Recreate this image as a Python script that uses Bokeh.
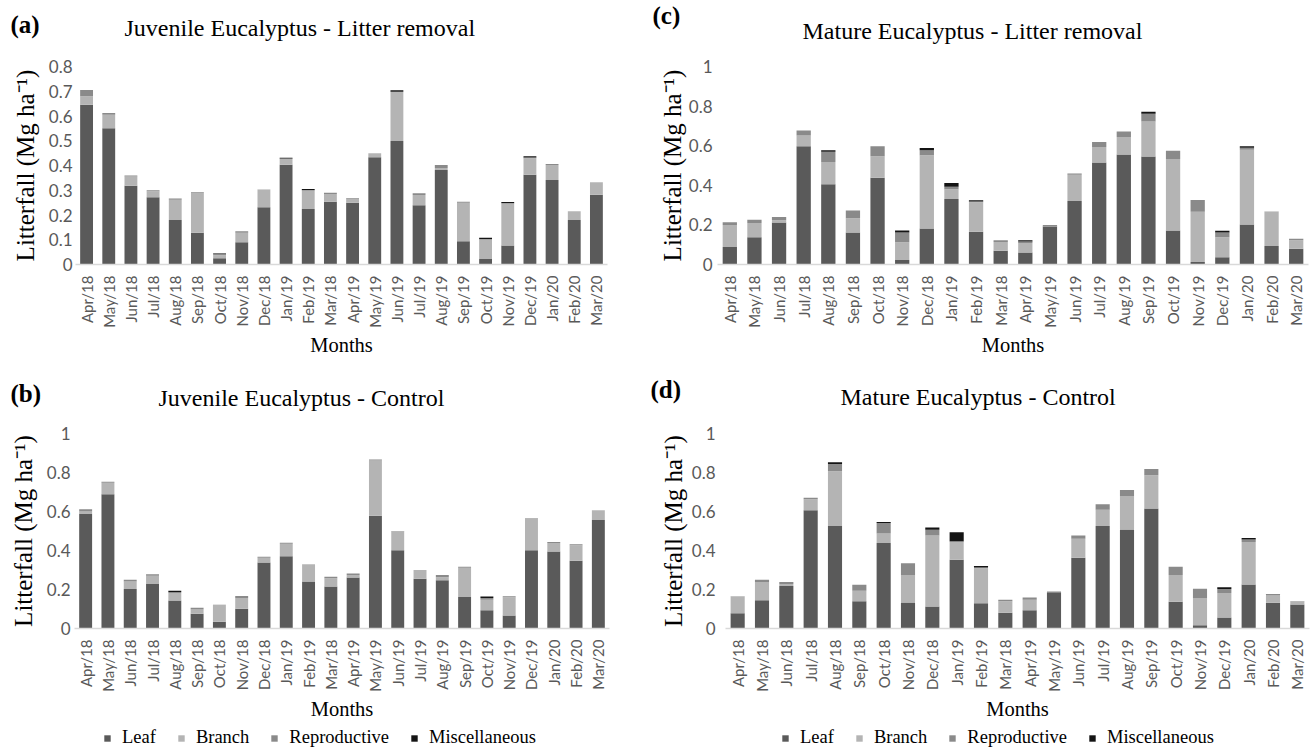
from bokeh.plotting import figure
from bokeh.layouts import row, column
from bokeh.models import (FactorRange, Range1d, FixedTicker, Title, Legend, LegendItem)
from bokeh.embed import file_html
from bokeh.resources import INLINE

months = ["Apr/18", "May/18", "Jun/18", "Jul/18", "Aug/18", "Sep/18", "Oct/18", "Nov/18",
          "Dec/18", "Jan/19", "Feb/19", "Mar/18", "Apr/19", "May/19", "Jun/19", "Jul/19",
          "Aug/19", "Sep/19", "Oct/19", "Nov/19", "Dec/19", "Jan/20", "Feb/20", "Mar/20"]
components = ["Leaf", "Branch", "Reproductive", "Miscellaneous"]
colors = ["#5a5a5a", "#b4b4b4", "#8a8a8a", "#141414"]

# (a) Juvenile Eucalyptus - Litter removal
a_leaf = [.645, .551, .318, .272, .180, .128, .025, .090, .231, .403, .224, .254,
          .249, .433, .499, .239, .382, .094, .022, .077, .363, .341, .180, .282]
a_branch = [.035, .054, .038, .024, .082, .161, .012, .038, .071, .023, .074, .031,
            .016, .016, .199, .042, .008, .156, .078, .168, .066, .061, .035, .050]
a_repro = [.025, .007, .004, .004, .005, .003, .006, .006, .001, .002, .003, .005,
           .003, .001, .000, .007, .012, .004, .003, .003, .003, .004, .000, .000]
a_misc = [.000, .000, .000, .000, .000, .000, .002, .000, .000, .003, .004, .000,
          .000, .000, .006, .000, .000, .000, .005, .005, .005, .000, .000, .000]

# (b) Juvenile Eucalyptus - Control
b_leaf = [.587, .688, .202, .228, .143, .076, .035, .101, .339, .371, .241, .216,
          .261, .578, .401, .255, .248, .162, .093, .067, .401, .395, .347, .556]
b_branch = [.013, .059, .039, .043, .039, .022, .085, .056, .024, .064, .088, .042,
            .014, .284, .098, .045, .015, .150, .055, .093, .164, .043, .080, .051]
b_repro = [.012, .005, .009, .007, .005, .008, .002, .010, .005, .005, .001, .008,
           .007, .005, .001, .000, .012, .005, .009, .005, .002, .005, .005, .000]
b_misc = [.000, .000, .000, .000, .007, .000, .000, .000, .000, .000, .000, .000,
          .000, .000, .000, .000, .000, .000, .007, .000, .000, .000, .000, .000]

# (c) Mature Eucalyptus - Litter removal
c_leaf = [.089, .137, .212, .597, .405, .162, .438, .023, .182, .331, .166, .069,
          .060, .192, .321, .515, .555, .545, .172, .012, .037, .202, .094, .079]
c_branch = [.111, .072, .012, .055, .113, .072, .109, .089, .370, .049, .148, .045,
            .049, .000, .132, .079, .089, .177, .361, .254, .100, .378, .172, .043]
c_repro = [.014, .017, .016, .025, .051, .039, .050, .050, .025, .013, .004, .008,
           .007, .007, .007, .025, .028, .039, .042, .060, .025, .010, .002, .008]
c_misc = [.000, .000, .000, .000, .008, .000, .000, .010, .012, .018, .006, .000,
          .006, .000, .000, .000, .000, .010, .000, .000, .009, .007, .000, .000]

# (d) Mature Eucalyptus - Control
d_leaf = [.078, .145, .218, .607, .526, .140, .438, .133, .113, .352, .130, .081,
          .094, .182, .363, .526, .508, .616, .137, .017, .056, .226, .132, .123]
d_branch = [.086, .094, .010, .056, .280, .054, .049, .142, .364, .091, .179, .059,
            .054, .000, .097, .083, .172, .170, .138, .140, .126, .217, .037, .014]
d_repro = [.001, .011, .011, .008, .037, .030, .054, .059, .029, .005, .004, .008,
           .011, .008, .017, .028, .030, .032, .042, .047, .020, .014, .008, .003]
d_misc = [.000, .000, .000, .000, .009, .000, .005, .000, .012, .046, .007, .000,
          .000, .000, .000, .000, .000, .000, .000, .000, .009, .007, .000, .000]

SERIF = "Liberation Serif"
SANS = "Lato"

TITLE_H = 27.0    # estimated text-box height of a 24px serif title
LETTER_H = 26.0   # slightly under the text-box height of the 25px bold letter


def panel(letter, title, leaf, branch, repro, misc, ymax, yticks, W, H, frame,
          letter_x, title_x, c_letter, c_title, tick_standoff=4, ylab_standoff=7):
    left, right, top, bottom = frame
    p = figure(width=W, height=H, x_range=FactorRange(*months), y_range=Range1d(0, ymax),
               output_backend="svg", toolbar_location=None,
               min_border_left=left, min_border_right=W - right,
               min_border_top=top, min_border_bottom=H - bottom)
    p.outline_line_color = None
    p.grid.visible = False

    data = {"months": months, "Leaf": leaf, "Branch": branch,
            "Reproductive": repro, "Miscellaneous": misc}
    p.vbar_stack(components, x="months", width=0.58, color=colors,
                 line_color=None, source=data)

    for ax in (p.xaxis[0], p.yaxis[0]):
        ax.major_tick_line_color = None
        ax.minor_tick_line_color = None
        ax.major_tick_out = 0
        ax.major_tick_in = 0
        ax.minor_tick_out = 0
        ax.minor_tick_in = 0

    xa = p.xaxis[0]
    xa.axis_line_color = "#d9d9d9"
    xa.axis_line_width = 1.5
    xa.major_label_orientation = 1.5708
    xa.major_label_text_font = SANS
    xa.major_label_text_font_size = "15px"
    xa.major_label_text_color = "#595959"
    xa.major_label_standoff = 11
    xa.axis_label = "Months"
    xa.axis_label_text_font = SERIF
    xa.axis_label_text_font_style = "normal"
    xa.axis_label_text_font_size = "20.5px"
    xa.axis_label_text_color = "black"
    xa.axis_label_standoff = 3

    ya = p.yaxis[0]
    ya.axis_line_color = None
    ya.ticker = FixedTicker(ticks=yticks)
    ya.major_label_overrides = {0: "0", 1: "1"}
    ya.major_label_text_font = SANS
    ya.major_label_text_font_size = "17px"
    ya.major_label_text_color = "#595959"
    ya.major_label_standoff = tick_standoff
    ya.axis_label = "Litterfall (Mg ha\u207b\u00b9)"
    ya.axis_label_text_font = SERIF
    ya.axis_label_text_font_style = "normal"
    ya.axis_label_text_font_size = "25px"
    ya.axis_label_text_color = "black"
    ya.axis_label_standoff = ylab_standoff

    # header: spacer, title and panel letter stacked in the "above" panel
    a = (c_letter - c_title) - 1 + TITLE_H / 2
    s_title = -2 * a
    base = c_title + 2 + TITLE_H / 2 - a
    gap = top - base
    p.add_layout(Title(text=" ", text_font_size="2px", standoff=max(gap - 4.3, 0)), "above")
    p.add_layout(Title(text=title, align="left", offset=title_x - left, vertical_align="top",
                       standoff=s_title, text_font=SERIF, text_font_style="normal",
                       text_font_size="24px", text_color="black"), "above")
    p.add_layout(Title(text=letter, align="left", offset=letter_x - left,
                       vertical_align="bottom", standoff=-(2 + LETTER_H),
                       text_font=SERIF, text_font_style="bold", text_font_size="25px",
                       text_color="black"), "above")
    return p


def legend_strip(W, H, x0):
    # strip under a panel; its frame is aligned with the panel's frame above it
    lf = figure(width=W, height=H, x_range=Range1d(0, 1), y_range=Range1d(0, 1),
                output_backend="svg", toolbar_location=None, min_border=0,
                x_axis_type=None, y_axis_type=None)
    lf.outline_line_color = None
    # zero-height proxy bars outside the view, only used as legend keys
    rs = [lf.vbar(x=[-1], top=[0], width=0.5, color=c, line_color=None) for c in colors]
    items = [LegendItem(label=c, renderers=[r]) for c, r in zip(components, rs)]
    lg = Legend(items=items, orientation="horizontal", location=(x0, 0),
                glyph_width=8, glyph_height=8, label_standoff=11, spacing=21,
                label_text_font=SERIF, label_text_font_size="18.5px",
                label_text_color="black", label_height=20,
                padding=0, margin=0, border_line_color=None,
                background_fill_alpha=0)
    lf.add_layout(lg, "center")
    return lf


pa = panel("(a)", "Juvenile Eucalyptus - Litter removal", a_leaf, a_branch, a_repro, a_misc,
           0.8, [0, 0.1, 0.2, 0.3, 0.4, 0.5, 0.6, 0.7, 0.8], 650, 370,
           (75, 607, 66, 264), 10, 124, 23, 27, tick_standoff=3, ylab_standoff=7)
pc = panel("(c)", "Mature Eucalyptus - Litter removal", c_leaf, c_branch, c_repro, c_misc,
           1.0, [0, 0.2, 0.4, 0.6, 0.8, 1], 662, 370,
           (67, 658, 66, 265), 2, 152, 14, 30, tick_standoff=5, ylab_standoff=0)
pb = panel("(b)", "Juvenile Eucalyptus - Control", b_leaf, b_branch, b_repro, b_misc,
           1.0, [0, 0.2, 0.4, 0.6, 0.8, 1], 650, 352,
           (74, 609, 63, 261), 10, 158, 22, 27, tick_standoff=4, ylab_standoff=7)
pd_ = panel("(d)", "Mature Eucalyptus - Control", d_leaf, d_branch, d_repro, d_misc,
            1.0, [0, 0.2, 0.4, 0.6, 0.8, 1], 662, 352,
            (75, 659, 63, 261), 0, 190, 18, 26, tick_standoff=10, ylab_standoff=2)
lb = legend_strip(650, 26, 103 - 74)
ld = legend_strip(662, 26, 781 - 725)

layout = column(row(pa, pc), row(column(pb, lb), column(pd_, ld)))
open("out.html", "w").write(file_html(layout, INLINE))
